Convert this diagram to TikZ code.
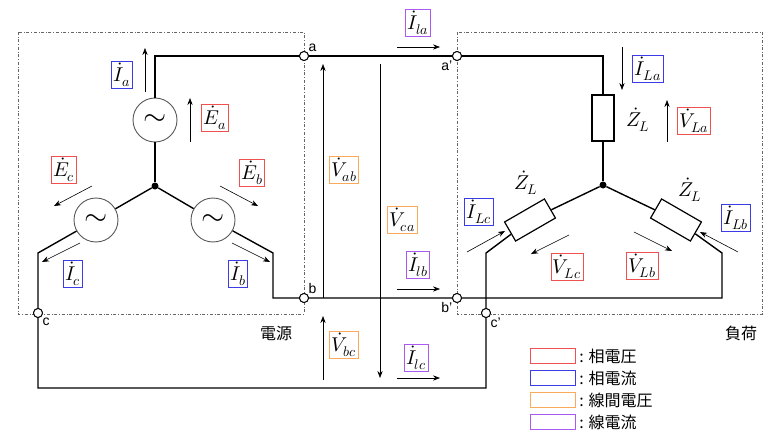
\documentclass[tikz,border=0pt]{standalone}
\usepackage{unicode-math}
\setmainfont{Liberation Sans}
\setmathfont{Latin Modern Math}
\newfontfamily\jp{Noto Sans CJK JP}
\usetikzlibrary{arrows.meta}
\definecolor{phv}{RGB}{240,80,80}
\definecolor{phi}{RGB}{60,60,230}
\definecolor{lnv}{RGB}{250,170,90}
\definecolor{lni}{RGB}{170,90,240}
\tikzset{
  wire/.style={line width=1.4pt},
  sig/.style={-{Stealth[length=7pt]}, line width=0.6pt},
  term/.style={draw, circle, fill=white, line width=0.9pt, inner sep=0pt, minimum size=9pt},
  src/.style={draw=gray!70!black, circle, fill=white, line width=0.9pt, minimum size=44pt, inner sep=0pt, font=\fontsize{30}{32}\selectfont},
  load/.style={draw, rectangle, fill=white, line width=1.2pt, minimum width=46pt, minimum height=22pt},
  lbl/.style={draw=#1, line width=0.8pt, inner sep=2pt, font=\fontsize{20}{24}\selectfont},
  zl/.style={font=\fontsize{20}{24}\selectfont},
  tlab/.style={font=\fontsize{14}{16}\selectfont, inner sep=1pt},
  box/.style={draw=gray!80!black, dash dot, line width=0.8pt},
}
\begin{document}
\begin{tikzpicture}[x=1pt, y=-1pt]
  \useasboundingbox (0,0) rectangle (768,444);
  % frames
  \draw[box] (18,32) rectangle (304,314);
  \draw[box] (457,32) rectangle (762,314);
  \node[font=\jp\fontsize{16}{18}\selectfont] at (276,333) {電源};
  \node[font=\jp\fontsize{16}{18}\selectfont] at (741,333) {負荷};

  % source side
  \node[circle, fill, inner sep=0pt, minimum size=7pt] (sn) at (155,186) {};
  \node[src] (sa) at (155,120) {$\sim$};
  \node[src] (sb) at (213,220) {$\sim$};
  \node[src] (sc) at (96,220) {$\sim$};
  \node[term] (ta) at (304,56) {};
  \node[term] (tb) at (304,298) {};
  \node[term] (tc) at (38,313) {};
  \node[tlab, anchor=south west] at (ta.north east) {a};
  \node[tlab, anchor=south west] at (tb.north east) {b};
  \node[tlab, anchor=north west] at (tc.south east) {c};

  % load side
  \node[circle, fill, inner sep=0pt, minimum size=7pt] (ln) at (603,185) {};
  \node[load, rotate=90] (za) at (603,118) {};
  \node[load, rotate=30] (zc) at (530,220) {};
  \node[load, rotate=-30] (zb) at (676,220) {};
  \node[term] (ra) at (457,56) {};
  \node[term] (rb) at (457,298) {};
  \node[term] (rc) at (486,313) {};
  \node[tlab, anchor=north east] at (ra.south west) {a'};
  \node[tlab, anchor=north east] at (rb.south west) {b'};
  \node[tlab, anchor=north west] at (rc.south east) {c'};
  \coordinate (kb) at (722,253);
  \coordinate (kc) at (486,253);

  % wires
  \draw[wire] (sn) -- (sa);
  \draw[wire] (sn) -- (sb);
  \draw[wire] (sn) -- (sc);
  \draw[wire] (sa) |- (ta) -- (ra) -| (za);
  \draw[wire] (sb) -- (273,253) |- (tb) -- (rb) -- (722,298) -- (kb) -- (zb);
  \draw[wire] (sc) -- (38,253) -- (tc) -- (38,388) -| (rc) -- (kc) -- (zc);
  \draw[wire] (ln) -- (za);
  \draw[wire] (ln) -- (zb);
  \draw[wire] (ln) -- (zc);
  \node[term] at (304,56) {};
  \node[term] at (304,298) {};
  \node[term] at (38,313) {};
  \node[term] at (457,56) {};
  \node[term] at (457,298) {};
  \node[term] at (486,313) {};

  % line voltages
  \draw[sig] (323,298) -- (323,64);
  \draw[sig] (380,64) -- (380,378);
  \draw[sig] (323,380) -- (323,316);
  \node[lbl=lnv] at (344,170) {$\dot{V}_{ab}$};
  \node[lbl=lnv] at (402,220) {$\dot{V}_{ca}$};
  \node[lbl=lnv] at (344,345) {$\dot{V}_{bc}$};

  % line currents
  \draw[sig] (397,47) -- (440,47);
  \draw[sig] (397,289) -- (440,289);
  \draw[sig] (397,378) -- (440,378);
  \node[lbl=lni] at (418,23) {$\dot{I}_{la}$};
  \node[lbl=lni] at (418,265) {$\dot{I}_{lb}$};
  \node[lbl=lni] at (416,358) {$\dot{I}_{lc}$};

  % source phase values
  \draw[sig] (145,92) -- (145,48);
  \draw[sig] (190,142) -- (190,98);
  \draw[sig] (92,186) -- (54,206);
  \draw[sig] (220,186) -- (258,206);
  \draw[sig] (80,243) -- (42,262);
  \draw[sig] (232,243) -- (270,262);
  \node[lbl=phi] at (122,75) {$\dot{I}_a$};
  \node[lbl=phv] at (215,118) {$\dot{E}_a$};
  \node[lbl=phv] at (64,170) {$\dot{E}_c$};
  \node[lbl=phv] at (252,173) {$\dot{E}_b$};
  \node[lbl=phi] at (73,274) {$\dot{I}_c$};
  \node[lbl=phi] at (238,274) {$\dot{I}_b$};

  % load phase values
  \draw[sig] (622,47) -- (622,90);
  \draw[sig] (667,142) -- (667,100);
  \draw[sig] (467,252) -- (505,231);
  \draw[sig] (569,235) -- (531,254);
  \draw[sig] (634,232) -- (672,251);
  \draw[sig] (738,252) -- (700,232);
  \node[lbl=phi] at (648,69) {$\dot{I}_{La}$};
  \node[lbl=phv] at (694,121) {$\dot{V}_{La}$};
  \node[lbl=phi] at (479,212) {$\dot{I}_{Lc}$};
  \node[lbl=phv] at (567,267) {$\dot{V}_{Lc}$};
  \node[lbl=phv] at (642,266) {$\dot{V}_{Lb}$};
  \node[lbl=phi] at (736,218) {$\dot{I}_{Lb}$};
  \node[zl] at (638,120) {$\dot{Z}_L$};
  \node[zl] at (526,183) {$\dot{Z}_L$};
  \node[zl] at (690,190) {$\dot{Z}_L$};

  % legend
  \foreach \c/\t [count=\i] in {phv/相電圧, phi/相電流, lnv/線間電圧, lni/線電流} {
    \node[draw=\c, line width=0.8pt, minimum width=45pt, minimum height=15pt, inner sep=0pt]
      (key\i) at (553,{334+22*\i}) {};
    \node[anchor=west, font=\jp\fontsize{16}{18}\selectfont] at (key\i.east) {: \t};
  }
\end{tikzpicture}
\end{document}
